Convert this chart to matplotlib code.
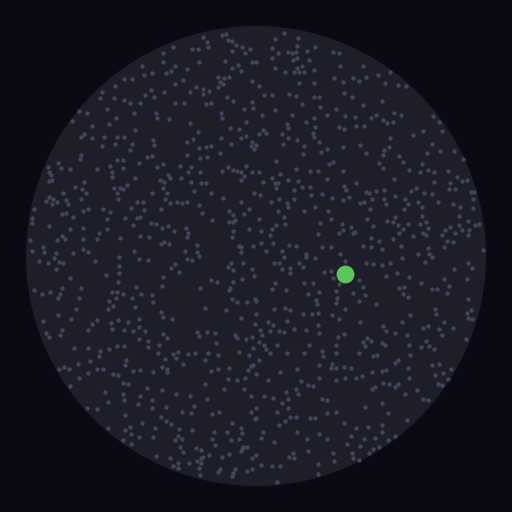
import numpy as np
import matplotlib
matplotlib.use("Agg")
import matplotlib.pyplot as plt
from matplotlib.patches import Circle

# Star field positions, per quadrant
# (units: 768 per half-width of the field; field spans 0..1536)
q1_stars = [(610,112),(620,127),(625,140),(665,105),(678,102),(685,120),(697,122),(708,135),(727,140),(750,147),(697,153),(735,158),(575,148),(593,147),(520,140),(490,160),
(490,185),(525,198),(562,208),(498,218),(513,213),(597,186),(675,182),(697,205),(715,196),(723,212),(757,187),(425,198),(433,225),(455,220),(373,238),(397,237),(345,258),
(550,241),(525,252),(655,230),(672,235),(687,230),(660,245),(670,252),(655,260),(757,243),(588,262),(610,268),(627,272),(608,282),(570,277),(492,275),(453,270),(462,290),(435,285),(305,275),(300,293),(342,295),(373,300),(390,308),(420,310),(525,308),(553,310),(617,312),(632,308),(680,292),(698,303),(757,305),(758,325),(732,327),
(322,327),(260,340),(238,333),(403,340),(467,340),(472,355),(507,358),(347,354),(328,372),(275,378),(217,362),(570,370),(662,338),(665,355),(689,385),(717,388),(737,367),(405,389),(593,397),
(243,412),(253,402),(275,413),(311,412),(350,410),(373,410),(460,420),(461,435),(397,432),(305,437),(345,433),(390,450),(560,425),(580,418),(598,445),(617,440),(633,437),(662,415),(693,433),(722,415),(737,408),(757,425),(752,437),(763,447),(242,465),(240,478),(350,480),(370,480),(440,472),(457,467),(560,465),(600,475),(622,470),(660,460),
(143,500),(175,488),(183,505),(210,508),(290,508),(330,498),(335,515),(370,505),(418,488),(472,500),(488,493),(540,497),(572,501),(600,515),(665,514),(685,500),(700,510),(712,512),(723,515),(737,497),(757,515),(148,515),(153,525),(155,540),(148,543),(335,530),(405,535),(480,540),(493,545),(505,525),(510,535),(543,535),(563,517),(572,545),(602,550),(617,548),(722,540),(733,527),(253,547),(225,562),(245,568),(258,578),(343,563),(360,563),(370,568),(382,555),(455,578),(490,565),(500,580),
(147,592),(160,597),(137,603),(155,613),(170,607),(190,580),(197,600),(203,612),(243,598),(350,580),(353,597),(410,605),(428,605),(495,598),(510,608),(532,605),(545,610),(560,607),(583,572),(598,615),(632,580),(668,595),(722,607),(762,580),(103,628),(185,643),(197,640),(220,652),(248,632),(263,628),(308,627),(330,635),(322,658),(375,653),(393,625),(410,655),(432,630),(482,628),(605,640),(635,660),(687,633),(700,645),(732,641),(748,628),
(97,655),(97,668),(148,677),(210,687),(250,683),(298,698),(322,688),(400,675),(420,650),(453,668),(468,673),(487,683),(505,677),(522,693),(558,683),(563,700),(562,712),(688,665),(700,665),(705,660),(698,692),(695,712),(748,688),(90,720),(130,740),(170,720),(195,717),(185,707),(248,718),(290,717),(360,713),(420,707),(448,712),(483,733),(493,727),(508,733),(592,735),(718,737),(723,742),(760,738),(95,753),(132,755),(168,760),(220,760),(250,748),(265,755),(403,752),(555,753),(590,755),(722,757)]

q2_stars = [(83,100),(57,117),(125,115),(47,143),(67,158),(95,157),(108,160),(120,155),(123,138),(153,152),(177,140),(230,155),(248,158),(0,187),
(47,175),(110,180),(123,175),(160,180),(57,205),(88,217),(115,215),(123,203),(130,215),(143,215),(137,198),(173,210),(253,198),(320,197),(403,215),(233,233),(260,246),(292,234),(308,242),(330,230),(367,225),(175,250),(130,250),(387,250),(425,255),(450,258),(8,258),
(25,285),(47,285),(100,283),(120,287),(173,290),(190,290),(265,280),(287,292),(378,302),(137,312),(193,322),(240,327),(322,315),(57,330),(17,345),(107,345),(213,345),(268,349),(297,350),(345,353),(360,345),(415,338),(435,345),(532,348),
(93,373),(150,365),(175,355),(177,382),(95,385),(20,390),(30,400),(8,402),(78,402),(95,415),(170,398),(175,412),(248,380),(265,388),(300,377),(325,377),(380,360),(393,368),(410,365),(550,367),(500,392),(470,405),(403,415),(558,393),(122,420),(80,433),(143,437),(190,427),(260,440),(313,435),(398,440),(383,450),(528,432),(0,435),
(60,483),(140,463),(195,457),(212,448),(380,465),(330,460),(428,468),(442,487),(513,460),(553,452),(595,452),(497,492),(220,493),(232,485),(370,490),(380,505),(8,515),(73,523),(120,508),(162,513),(187,512),(260,512),(460,510),(492,517),(517,510),(533,515),(575,512),(620,478),
(20,545),(47,535),(57,550),(67,548),(95,540),(127,542),(213,537),(300,550),(413,537),(535,547),(582,548),(603,532),(617,542),(633,540),(60,565),(138,562),(115,570),(162,562),(265,558),(270,570),(330,575),(340,580),(360,572),(385,570),(465,573),(480,565),(505,578),(527,582),(580,568),(598,567),(645,577),(655,577),(13,585),(45,605),(70,597),(93,608),(115,598),(165,585),(198,582),(228,595),(262,600),(278,592),(312,608),(325,607),(348,598),(385,598),(390,612),(418,588),(448,598),(455,612),(485,605),(498,620),(545,605),(590,612),(612,622),(652,597),
(67,632),(97,620),(143,632),(178,620),(215,632),(342,627),(445,628),(497,648),(610,648),(652,625),(83,652),(10,658),(60,675),(47,688),(88,672),(192,668),(226,658),(258,672),(285,680),(262,690),(297,695),(333,658),(352,677),(393,662),(410,665),(418,650),(425,676),(440,687),(455,672),(493,672),(510,667),(515,685),(502,700),(568,690),(583,682),(597,698),(610,675),(617,690),(637,662),(640,690),(657,675),(670,672),(15,692),(42,705),
(185,703),(250,700),(290,700),(345,715),(370,722),(410,717),(430,700),(470,708),(510,705),(558,705),(573,722),(590,725),(635,705),(15,730),(50,730),(100,735),(120,738),(225,742),(197,740),(322,738),(345,742),(377,748),(435,738),(515,745),(565,740),(682,750),(30,752),(78,752),(150,762),(253,762),(485,762),(520,762)]

q3_stars = [(117,15),(145,22),(163,5),(177,17),(190,20),(167,38),(285,15),(357,3),(357,30),(357,50),(418,10),(445,12),(512,35),(525,25),(538,48),(560,8),(575,12),(598,0),(685,33),(692,20),(700,43),(730,20),(755,40),(762,60),(318,57),(210,65),(490,62),(632,72),(650,77),
(353,77),(408,93),(485,90),(700,77),(727,70),(690,95),(687,103),(243,95),(102,103),(127,115),(150,107),(173,127),(180,113),(185,95),(237,127),(337,107),(350,107),(368,113),(347,125),(328,135),(395,125),(422,113),(455,118),(458,138),(600,97),(697,128),(712,137),(740,137),(765,130),
(338,150),(325,160),(405,153),(228,160),(615,157),(678,162),(175,177),(212,188),(290,192),(355,192),(383,197),(418,190),(483,168),(488,183),(517,190),(723,185),(130,195),(275,203),(332,202),(400,225),(418,212),(435,225),(263,223),(373,222),(335,220),(138,232),(148,242),(180,238),(185,222),(590,227),(598,240),(622,227),(645,232),(490,233),(502,245),(705,237),(712,245),(738,248),(755,242),(765,205),
(418,250),(443,255),(478,268),(648,262),(222,277),(265,275),(300,285),(328,278),(350,270),(373,270),(445,272),(297,300),(473,292),(520,295),(533,287),(528,305),(563,293),(585,292),(623,292),(655,298),(717,288),(748,297),(758,275),(270,315),(377,312),(495,308),(615,312),(235,325),(375,327),(548,325),(760,327),(178,340),(193,333),(207,340),(263,350),(290,340),(310,340),(400,345),(420,342),(458,348),(485,332),(500,340),(500,348),(633,345),(655,340),(688,337),(745,342),(752,330),
(338,355),(353,358),(370,382),(385,383),(440,395),(485,403),(615,383),(685,370),(710,373),(735,365),(210,390),(237,365),(315,407),(368,413),(420,420),(527,415),(570,420),(672,400),(733,400),(752,420),(325,437),(373,432),(415,443),(455,433),(455,455),(497,452),(583,450),(620,430),
(262,455),(290,460),(375,477),(427,500),(483,482),(497,495),(512,503),(545,468),(572,470),(637,473),(657,467),(697,500),(752,467),(323,517),(375,522),(390,512),(392,533),(465,515),(537,520),(577,522),(643,528),(680,527),(722,517),(725,532),(765,488),
(370,552),(392,563),(417,543),(458,543),(525,553),(533,540),(545,548),(540,572),(548,588),(588,575),(603,582),(637,550),(645,567),(692,552),(718,548),(730,572),(742,572),(722,585),(727,578),(468,600),(510,605),(520,630),(535,622),(535,635),(567,622),(590,615),(603,607),(603,620),(610,602),(628,597),(665,602),(687,595),(757,607),(598,637),(600,657),(660,640),(655,648),(695,660),(700,650),(705,640),(740,645),(755,640)]

q4_stars = [(53,22),(70,20),(85,3),(130,22),(142,32),(150,3),(177,5),(268,15),(330,22),(350,25),(378,27),(402,22),(437,5),(508,17),(527,3),(635,20),(648,35),(593,40),(78,40),(103,37),(103,52),(205,48),(225,45),(232,67),(308,72),(390,60),(422,50),(458,62),(563,68),(633,70),
(58,82),(145,80),(170,80),(248,85),(322,92),(430,97),(443,93),(495,82),(527,98),(542,98),(578,90),(47,100),(90,103),(190,108),(157,113),(240,105),(290,110),(327,117),(442,113),(455,123),(573,110),(180,133),(242,125),(240,140),(308,135),(635,128),(0,135),
(183,145),(360,145),(55,158),(88,157),(103,163),(140,175),(168,173),(187,172),(228,177),(268,160),(463,177),(537,158),(540,175),(632,172),(645,162),(635,187),(648,190),(0,175),(35,197),(50,207),(93,195),(113,220),(150,222),(185,208),(248,190),(312,197),(382,210),(390,225),(437,197),(500,217),(515,210),(550,220),(565,197),(590,215),(13,222),(43,225),(70,225),(83,228),(190,230),
(17,238),(265,233),(245,242),(333,245),(345,255),(417,232),(453,237),(557,238),(630,248),(10,258),(25,268),(30,278),(63,268),(160,268),(240,268),(320,258),(328,270),(378,262),(388,268),(458,268),(495,272),(510,255),(520,270),(533,278),(42,290),(93,290),(145,292),(198,285),(200,300),(240,290),(310,292),(350,300),(363,297),(463,298),(10,312),(190,327),(228,325),(225,337),(240,337),(265,332),(285,335),(418,322),(427,313),(455,335),(527,328),(548,323),
(0,355),(73,348),(123,340),(190,365),(135,375),(240,372),(268,365),(300,365),(318,360),(348,348),(377,345),(390,342),(460,365),(537,357),(560,352),(585,340),(575,370),(35,372),(155,387),(172,390),(348,400),(358,392),(382,380),(400,385),(418,393),(425,383),(448,413),(483,402),(545,383),(558,388),(120,400),(127,413),(90,408),(25,420),(50,427),(197,430),(213,433),(500,428),(515,433),(378,440),
(78,440),(95,430),(0,455),(97,455),(63,468),(240,468),(213,472),(328,452),(397,472),(0,487),(87,495),(103,483),(120,482),(163,487),(177,487),(265,500),(70,508),(453,493),(20,527),(122,528),(190,533),(300,517),(335,513),(378,508),(378,528),
(15,545),(55,558),(152,550),(212,548),(285,540),(325,548),(358,545),(397,553),(418,540),(273,563),(313,570),(352,578),(370,572),(0,598),(100,603),(112,590),(115,605),(155,585),(230,592),(287,590),(290,605),(310,612),(340,592),(235,615),(15,627),(47,630),(73,630),(185,625),(187,655),(63,678)]

quadrant_offsets = [(0, 0), (768, 0), (0, 768), (768, 768)]

field_center = (768, 768)
field_radius = 690
target_point = (1034, 823)

BG = "#0a0a14"
FIELD = "#1e1e29"
STAR = "#44445a"
TARGET = "#5cc65c"

xs, ys = [], []
for stars, (ox, oy) in zip([q1_stars, q2_stars, q3_stars, q4_stars], quadrant_offsets):
    arr = np.array(stars, dtype=float)
    xs.append(arr[:, 0] + ox)
    ys.append(arr[:, 1] + oy)
xs = np.concatenate(xs)
ys = np.concatenate(ys)

fig = plt.figure(figsize=(5.12, 5.12), dpi=100, facecolor=BG)
ax = fig.add_axes([0, 0, 1, 1])
ax.set_facecolor(BG)
ax.set_xlim(0, 1536)
ax.set_ylim(1536, 0)
ax.set_aspect("equal")
ax.axis("off")

ax.add_patch(Circle(field_center, field_radius, facecolor=FIELD, edgecolor="none", zorder=1))
ax.scatter(xs, ys, s=10, c=STAR, linewidths=0, zorder=2)
ax.scatter([target_point[0]], [target_point[1]], s=165, c=TARGET, linewidths=0, zorder=3)

fig.savefig("out.png", dpi=100, facecolor=BG)
